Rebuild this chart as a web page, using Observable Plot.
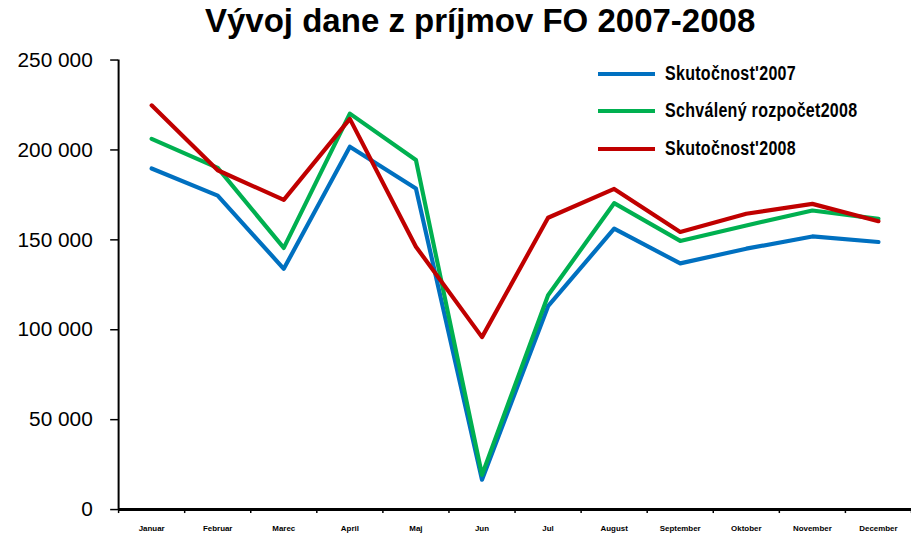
<!DOCTYPE html>
<html>
<head>
<meta charset="utf-8">
<script src="https://cdn.jsdelivr.net/npm/d3@7"></script>
<script src="https://cdn.jsdelivr.net/npm/@observablehq/plot@0.6"></script>
<style>
  html, body { margin: 0; padding: 0; background: #fff; overflow: hidden; width: 911px; height: 539px; }
  #wrap { position: relative; width: 911px; height: 539px; overflow: hidden; font-family: "Liberation Sans", Arial, sans-serif; }
  #title { position: absolute; left: 205px; top: 2px; font-size: 33px; font-weight: bold; white-space: nowrap; color: #000; }
  #chart { position: absolute; left: 0; top: 0; }
  .leg { position: absolute; left: 598px; display: flex; align-items: center; white-space: nowrap; }
  .leg .sw { width: 57px; height: 4px; margin-right: 10px; }
  .leg .tx { font-family: "Liberation Sans Narrow", "Liberation Sans", Arial, sans-serif; font-weight: bold; font-size: 16px; color: #000; letter-spacing: 0.3px; display: inline-block; transform: scaleY(1.25); transform-origin: left center; }
</style>
</head>
<body>
<div id="wrap">
  <div id="chart"></div>
  <div id="title">Vývoj dane z príjmov FO 2007-2008</div>
  <div id="legend"></div>
</div>
<script>
const months = ["Januar", "Februar", "Marec", "April", "Maj", "Jun", "Jul", "August", "September", "Oktober", "November", "December"];
const seriesNames = ["Skutočnosť2007", "Schválený rozpočet2008", "Skutočnosť2008"];
const seriesLabels = ["Skutočnost'2007", "Schválený rozpočet2008", "Skutočnost'2008"];
const seriesColors = ["#0070C0", "#00B050", "#C00000"];
const skutocnost2007 = [189700, 174600, 133900, 201800, 178600, 16600, 113100, 156200, 136900, 145100, 151900, 148800];
const rozpocet2008 = [206200, 190000, 145500, 220200, 194400, 19300, 119200, 170400, 149400, 158000, 166300, 161700];
const skutocnost2008 = [224800, 188700, 172200, 217300, 146200, 95900, 162300, 178300, 154400, 164500, 170000, 160400];
const yTicks = [0, 50000, 100000, 150000, 200000, 250000];

const allSeries = [skutocnost2007, rozpocet2008, skutocnost2008];
const data = [];
allSeries.forEach((vals, s) => vals.forEach((v, i) => data.push({series: seriesNames[s], i, x: i + 0.5, value: v})));

const fmt = v => d3.format(",")(v).replace(/,/g, " ");

const plot = Plot.plot({
  width: 918,
  height: 539,
  marginLeft: 119,
  marginRight: 0,
  marginTop: 60,
  marginBottom: 26,
  style: {background: "transparent", fontFamily: "Liberation Sans, Arial, sans-serif", color: "#000", overflow: "visible"},
  x: {domain: [0, 12]},
  y: {domain: [0, 250000]},
  color: {domain: seriesNames, range: seriesColors},
  marks: [
    Plot.axisY({ticks: yTicks, tickSize: 8, tickPadding: 18, tickFormat: fmt, label: null, fontSize: 21, stroke: "#000", strokeWidth: 1.5, strokeOpacity: 1}),
    Plot.axisX({ticks: d3.range(13), tickSize: 4, tickFormat: () => "", label: null, stroke: "#000", strokeWidth: 1.5, strokeOpacity: 1}),
    Plot.axisX({ticks: months.map((m, i) => i + 0.5), tickSize: 0, tickPadding: 16, tickFormat: d => months[Math.round(d - 0.5)], label: null, fontSize: 8, fontWeight: "bold"}),
    Plot.line(data, {x: "x", y: "value", z: "series", stroke: "series", strokeWidth: 4.2, strokeLinejoin: "round", strokeLinecap: "round"}),
    Plot.ruleX([0], {y1: 0, y2: 250000, stroke: "#000", strokeWidth: 2}),
    Plot.ruleY([0], {stroke: "#000", strokeWidth: 3})
  ]
});
document.getElementById("chart").appendChild(plot);

const legendTops = [74, 111, 149];
const legend = document.getElementById("legend");
seriesLabels.forEach((lab, k) => {
  const row = document.createElement("div");
  row.className = "leg";
  row.style.top = (legendTops[k] - 11) + "px";
  row.style.height = "22px";
  row.innerHTML = `<span class="sw" style="background:${seriesColors[k]}"></span><span class="tx">${lab}</span>`;
  legend.appendChild(row);
});
</script>
</body>
</html>
